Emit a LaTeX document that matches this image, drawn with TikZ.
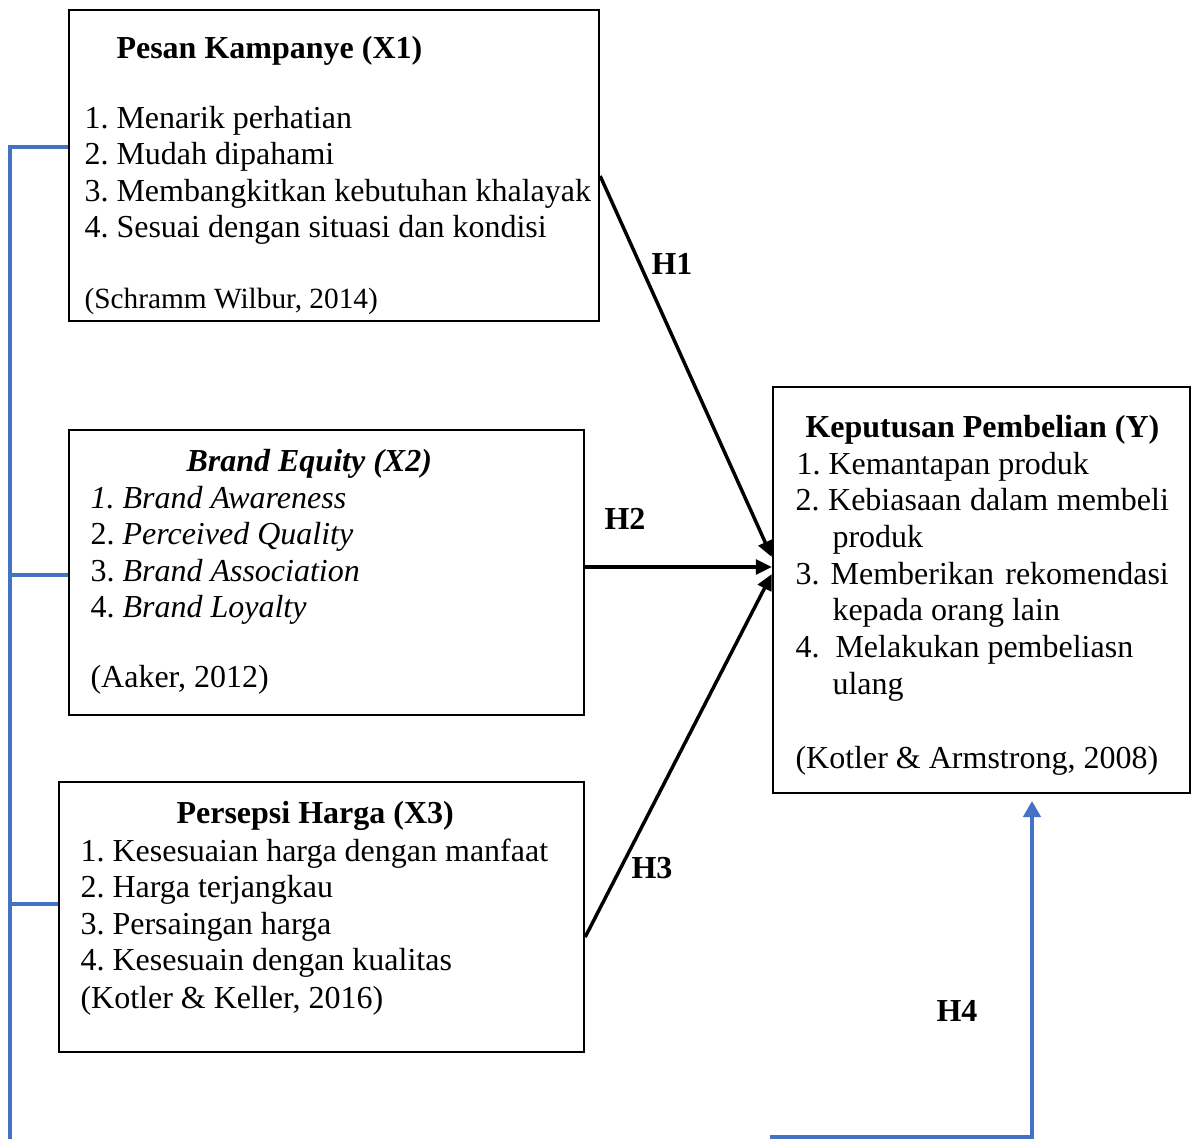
\documentclass[tikz,border=0pt]{standalone}
\usepackage{fontspec}
\setmainfont{Liberation Serif}
\usetikzlibrary{arrows.meta}
\definecolor{wordblue}{RGB}{68,114,196}
\frenchspacing

\begin{document}
\begin{tikzpicture}[x=0.375pt,y=-0.375pt,
  box/.style 2 args={draw,line width=0.9pt,inner sep=0pt,
    minimum width=#1*0.375pt,minimum height=#2*0.375pt},
  txt/.style={anchor=base west,inner sep=0pt,font=\fontsize{12}{14}\selectfont},
  ttl/.style={txt,font=\fontsize{12}{14}\selectfont\bfseries},
  lab/.style={inner sep=0pt,font=\fontsize{12}{14}\selectfont\bfseries},
  hyp/.style={-{Triangle[length=6pt,width=5.5pt]},line width=1.3pt},
  link/.style={wordblue,line width=1.3pt}]
  \useasboundingbox (0,0) rectangle (1197,1139);

  % the four boxes
  \node[box={530}{311}] (x1) at (334,165.5) {};
  \node[box={515}{285}] (x2) at (326.5,572.5) {};
  \node[box={525}{270}] (x3) at (321.5,917) {};
  \node[box={417}{406}] (ky) at (981.5,590) {};

  % Pesan Kampanye
  \node[ttl] (t1) at (116,58) {Pesan Kampanye (X1)};
  \foreach \t [count=\i] in {1. Menarik perhatian,2. Mudah dipahami,
      3. Membangkitkan kebutuhan khalayak,4. Sesuai dengan situasi dan kondisi}
    \node[txt] (xa\i) at (84,91.4+36.6*\i) {\t};
  \node[txt,font=\fontsize{11}{13}\selectfont] (s1) at (84,308) {(Schramm Wilbur, 2014)};

  % Brand Equity
  \node[ttl,font=\fontsize{12}{14}\selectfont\bfseries\itshape] (t2) at (186,471) {Brand Equity (X2)};
  \node[txt] (xb1) at (90,508) {\textit{1. Brand Awareness}};
  \node[txt] (xb2) at (90,544.5) {2. \textit{Perceived Quality}};
  \node[txt] (xb3) at (90,581) {3. \textit{Brand Association}};
  \node[txt] (xb4) at (90,617.5) {4. \textit{Brand Loyalty}};
  \node[txt] (s2) at (90,687) {(Aaker, 2012)};

  % Persepsi Harga
  \node[ttl] (t3) at (176,823) {Persepsi Harga (X3)};
  \foreach \t [count=\i] in {1. Kesesuaian harga dengan manfaat,2. Harga terjangkau,
      3. Persaingan harga,4. Kesesuain dengan kualitas}
    \node[txt] (xc\i) at (80,824.4+36.6*\i) {\t};
  \node[txt] (s3) at (80,1008) {(Kotler \& Keller, 2016)};

  % Keputusan Pembelian
  \node[ttl] (t4) at (805,437) {Keputusan Pembelian (Y)};
  \node[txt] (ya1) at (796,474) {1. Kemantapan produk};
  \node[txt] (ya2) at (795,510) {\makebox[140pt][s]{2. Kebiasaan dalam membeli}};
  \node[txt] (ya2b) at (832,547) {produk};
  \node[txt] (ya3) at (795,584) {\makebox[140pt][s]{3. Memberikan\ rekomendasi}};
  \node[txt] (ya3b) at (832,620) {kepada orang lain};
  \node[txt] (ya4) at (795,657) {4.\ \ Melakukan pembeliasn};
  \node[txt] (ya4b) at (832,694) {ulang};
  \node[txt] (s4) at (795,768) {(Kotler \& Armstrong, 2008)};

  % hypotheses
  \draw[hyp] (x1.east |- 0,176) -- (ky.west |- 0,557);
  \draw[hyp] (x2.east |- 0,567) -- (ky.west |- 0,567);
  \draw[hyp] (x3.east |- 0,937) -- (ky.west |- 0,574);
  \node[lab] (h1) at (672,264) {H1};
  \node[lab] (h2) at (625,519) {H2};
  \node[lab] (h3) at (652,868) {H3};
  \node[lab] (h4) at (957,1011) {H4};

  % joint effect
  \coordinate (base) at (10,1139);
  \draw[link] (x1.west |- 0,147) -| (base);
  \draw[link] (10,575) -- (x2.west |- 0,575);
  \draw[link] (10,904) -- (x3.west |- 0,904);
  \coordinate (h4a) at (770,1137);
  \coordinate (h4b) at (1032,801);
  \draw[link,-{Triangle[length=6pt,width=6.5pt]}] (h4a) -| (h4b);
\end{tikzpicture}
\end{document}
